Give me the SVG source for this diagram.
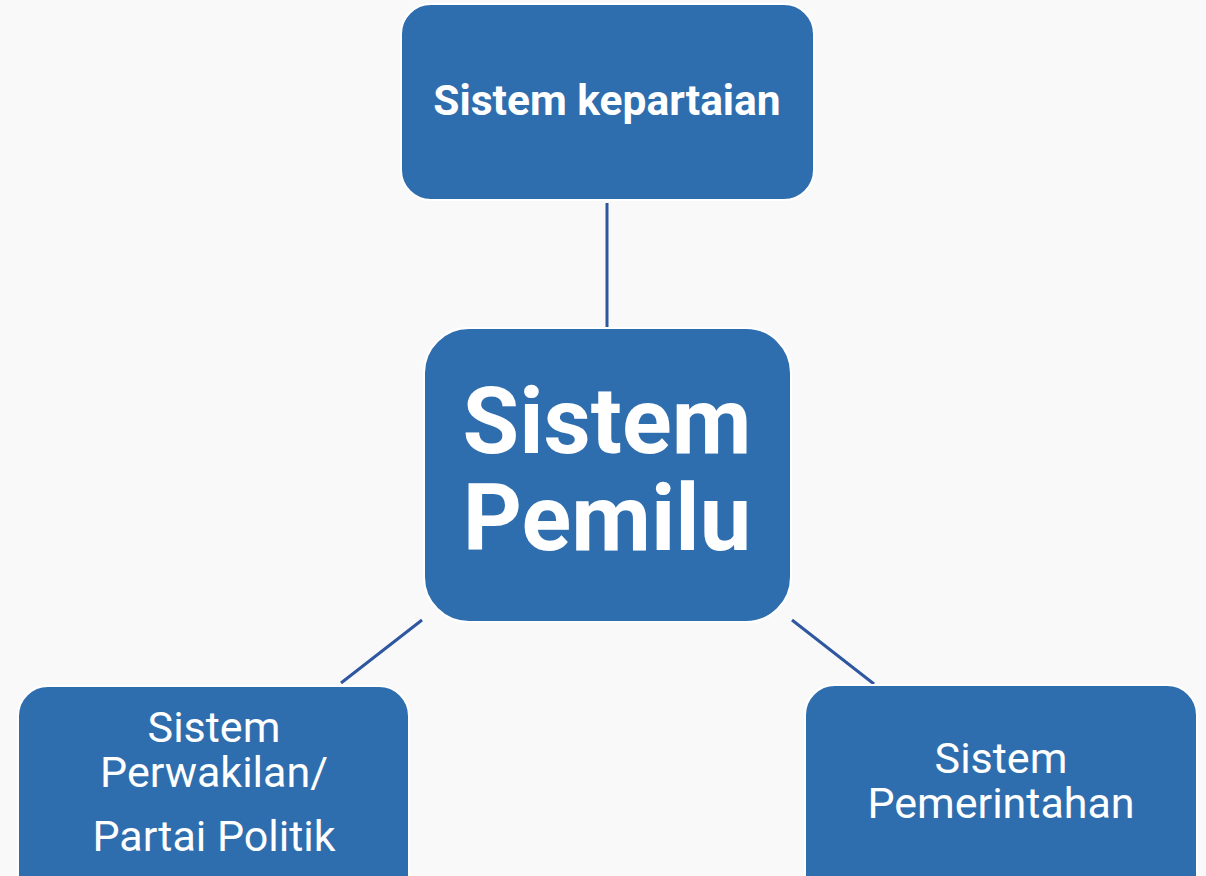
<svg xmlns="http://www.w3.org/2000/svg" width="1206" height="876" viewBox="0 0 1206 876">
<style>
.box{fill:#2f6eae;stroke:#ffffff;stroke-width:2}
.t{font-family:Roboto,"Liberation Sans",sans-serif;fill:#ffffff;text-anchor:middle}
.b{font-weight:bold}
.s{font-size:43px}
.conn{stroke:#2f57a0;stroke-width:3;fill:none}
</style>
<rect x="0" y="0" width="1206" height="876" fill="#f9f9fa"/>
<g id="connectors">
<line class="conn" x1="607" y1="203" x2="607" y2="327"/>
<line class="conn" x1="422" y1="620" x2="341" y2="683"/>
<line class="conn" x1="792" y1="620" x2="874" y2="684"/>
</g>
<g id="node-kepartaian">
<rect class="box" x="401" y="4" width="413" height="196" rx="30"/>
<text class="t b" x="607" y="115" font-size="42.5">Sistem kepartaian</text>
</g>
<g id="node-pemilu">
<rect class="box" x="424" y="328" width="367" height="294" rx="45"/>
<text class="t b" x="607" y="453" font-size="92">Sistem</text>
<text class="t b" x="607" y="550" font-size="92">Pemilu</text>
</g>
<g id="node-perwakilan">
<rect class="box" x="18" y="686" width="391" height="220" rx="30"/>
<text class="t s" x="214" y="742">Sistem</text>
<text class="t s" x="214" y="787">Perwakilan/</text>
<text class="t s" x="214" y="851">Partai Politik</text>
</g>
<g id="node-pemerintahan">
<rect class="box" x="805" y="685" width="392" height="220" rx="30"/>
<text class="t s" x="1001" y="773">Sistem</text>
<text class="t s" x="1001" y="818">Pemerintahan</text>
</g>
</svg>
